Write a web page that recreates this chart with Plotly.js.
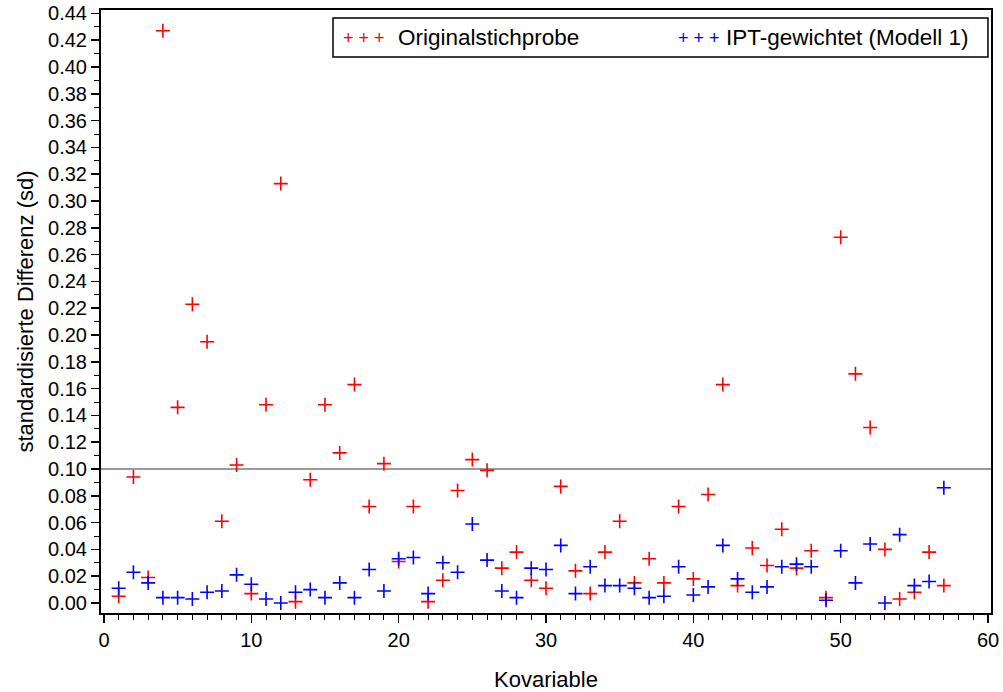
<!DOCTYPE html>
<html>
<head>
<meta charset="utf-8">
<script src="https://cdn.plot.ly/plotly-3.0.1.min.js"></script>
<style>html,body{margin:0;padding:0;background:#fff;}#chart{width:1003px;height:692px;}</style>
</head>
<body>
<div id="chart"></div>
<script>
const kovariable = Array.from({length: 57}, (_, i) => i + 1);
const originalstichprobe = [
  0.005, 0.094, 0.019, 0.427, 0.146, 0.223, 0.195, 0.061, 0.103, 0.007,
  0.148, 0.313, 0.001, 0.092, 0.148, 0.112, 0.163, 0.072, 0.104, 0.031,
  0.072, 0.001, 0.017, 0.084, 0.107, 0.099, 0.026, 0.038, 0.017, 0.011,
  0.087, 0.024, 0.007, 0.038, 0.061, 0.015, 0.033, 0.015, 0.072, 0.018,
  0.081, 0.163, 0.013, 0.041, 0.028, 0.055, 0.026, 0.039, 0.004, 0.273,
  0.171, 0.131, 0.040, 0.003, 0.008, 0.038, 0.013
];
const iptGewichtet = [
  0.011, 0.023, 0.015, 0.004, 0.004, 0.003, 0.008, 0.009, 0.021, 0.014,
  0.003, 0.000, 0.008, 0.010, 0.004, 0.015, 0.004, 0.025, 0.009, 0.033,
  0.034, 0.007, 0.030, 0.023, 0.059, 0.032, 0.009, 0.004, 0.026, 0.025,
  0.043, 0.007, 0.027, 0.013, 0.013, 0.011, 0.004, 0.005, 0.027, 0.006,
  0.012, 0.043, 0.018, 0.008, 0.012, 0.027, 0.029, 0.027, 0.002, 0.039,
  0.015, 0.044, 0.000, 0.051, 0.013, 0.016, 0.086
];
const seriesNames = ['Originalstichprobe', 'IPT-gewichtet (Modell 1)'];
const schwelle = 0.10;

const FONT = 'Liberation Sans, Arial, sans-serif';
const mk = (c) => ({symbol: 'cross-thin-open', size: 10, line: {color: c, width: 1.6}, color: c});

const data = [
  {x: kovariable, y: originalstichprobe, mode: 'markers', type: 'scatter', name: seriesNames[0], marker: mk('#ff0000'), showlegend: false},
  {x: kovariable, y: iptGewichtet, mode: 'markers', type: 'scatter', name: seriesNames[1], marker: mk('#0000ff'), showlegend: false}
];

const layout = {
  width: 1003, height: 692,
  margin: {l: 101, r: 12, t: 10, b: 79},
  paper_bgcolor: '#fff', plot_bgcolor: '#fff',
  font: {family: FONT, size: 20, color: '#000'},
  xaxis: {
    range: [-0.2, 60.2], tickvals: [0, 10, 20, 30, 40, 50, 60],
    ticks: 'outside', ticklen: 8, tickwidth: 1.5, tickcolor: '#000',
    minor: {dtick: 1, ticks: 'outside', ticklen: 5, tickwidth: 1, tickcolor: '#000'},
    showgrid: false, zeroline: false, showline: true, mirror: true, linecolor: '#000', linewidth: 2,
    tickfont: {family: FONT, size: 20},
    title: {text: 'Kovariable', font: {family: FONT, size: 22}, standoff: 25}
  },
  yaxis: {
    range: [-0.00746, 0.44254], dtick: 0.02, tick0: 0, tickformat: '.2f',
    ticks: 'outside', ticklen: 8, tickwidth: 1.5, tickcolor: '#000',
    minor: {dtick: 0.01, ticks: 'outside', ticklen: 5, tickwidth: 1, tickcolor: '#000'},
    showgrid: false, zeroline: false, showline: true, mirror: true, linecolor: '#000', linewidth: 2,
    tickfont: {family: FONT, size: 20},
    title: {text: 'standardisierte Differenz (sd)', font: {family: FONT, size: 22}, standoff: 8}
  },
  shapes: [
    {type: 'line', xref: 'paper', x0: 0, x1: 1, yref: 'y', y0: schwelle, y1: schwelle, line: {color: '#999999', width: 2}, layer: 'below'},
    {type: 'rect', xref: 'paper', yref: 'paper', x0: 0.2607, x1: 0.9966, y0: 0.922, y1: 0.9867, line: {color: '#000', width: 1.5}, fillcolor: '#fff'}
  ],
  annotations: [
    {xref: 'paper', yref: 'paper', x: 0.2697, y: 0.954, xanchor: 'left', yanchor: 'middle', showarrow: false, text: '+ + +', font: {family: FONT, size: 18, color: '#ff0000'}},
    {xref: 'paper', yref: 'paper', x: 0.331, y: 0.954, xanchor: 'left', yanchor: 'middle', showarrow: false, text: seriesNames[0], font: {family: FONT, size: 22.5, color: '#000'}},
    {xref: 'paper', yref: 'paper', x: 0.6457, y: 0.954, xanchor: 'left', yanchor: 'middle', showarrow: false, text: '+ + +', font: {family: FONT, size: 18, color: '#0000ff'}},
    {xref: 'paper', yref: 'paper', x: 0.6998, y: 0.954, xanchor: 'left', yanchor: 'middle', showarrow: false, text: seriesNames[1], font: {family: FONT, size: 22.5, color: '#000'}}
  ]
};

Plotly.newPlot('chart', data, layout, {displayModeBar: false, staticPlot: true});
</script>
</body>
</html>
